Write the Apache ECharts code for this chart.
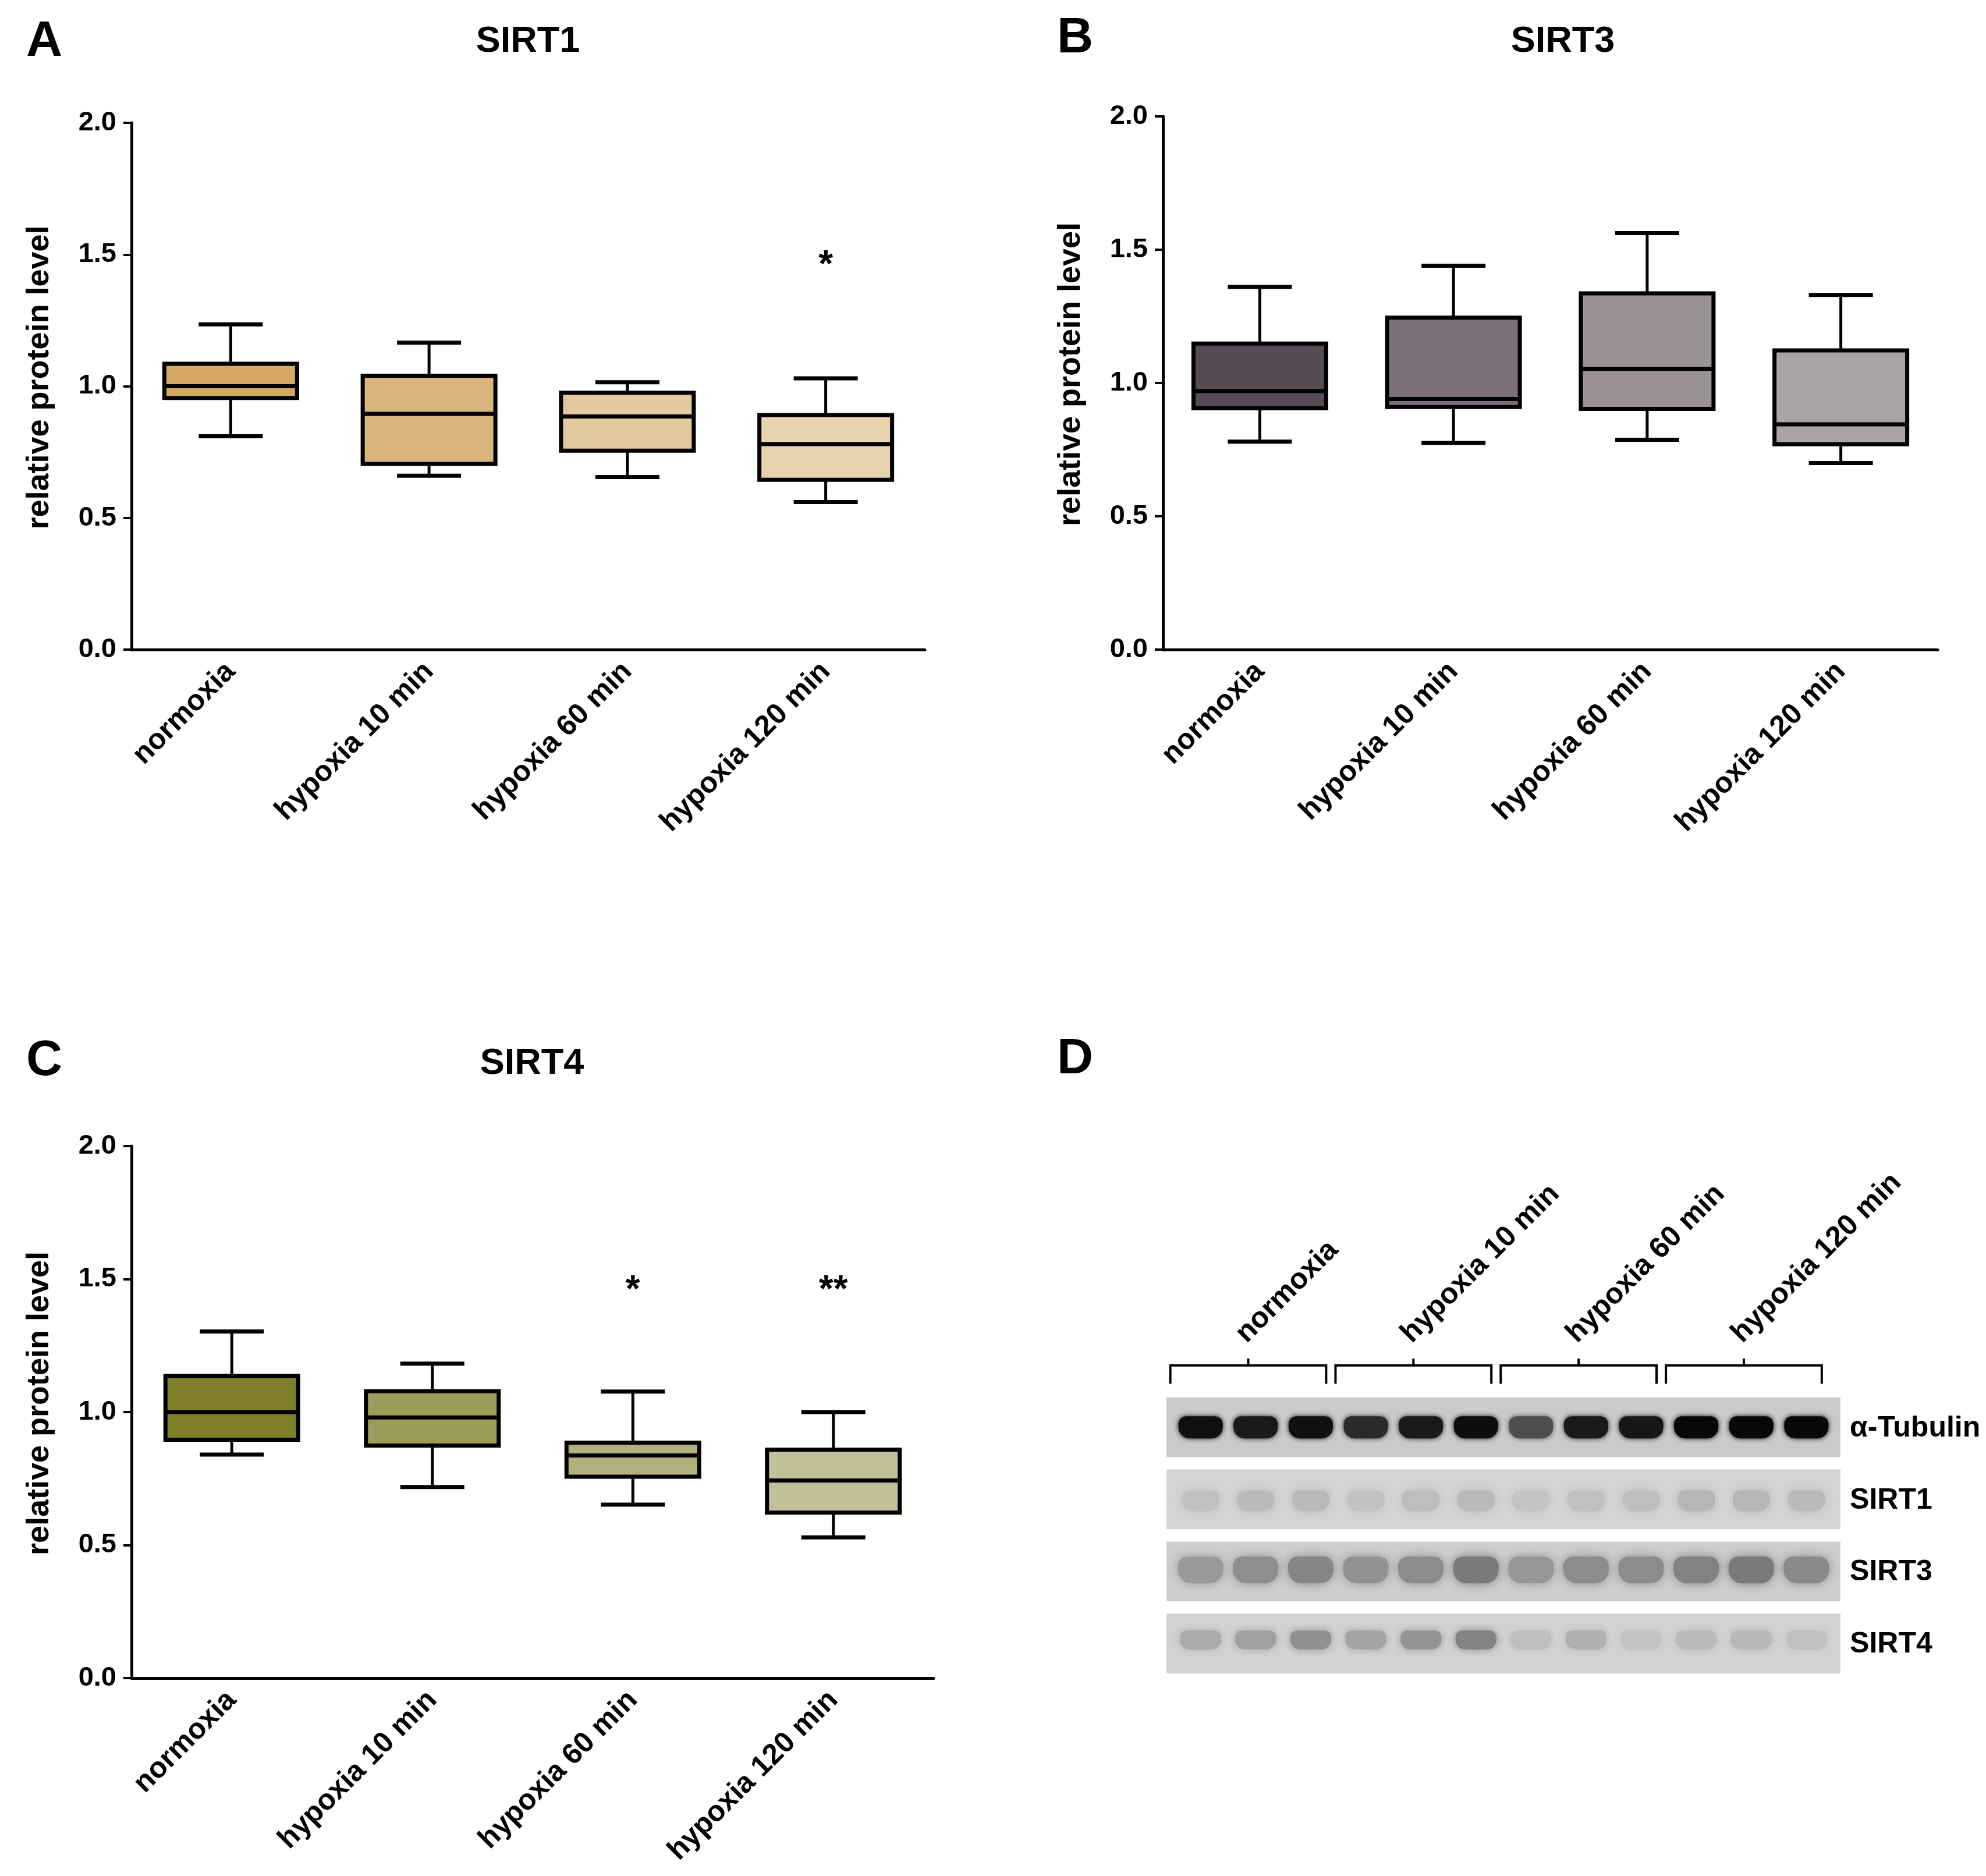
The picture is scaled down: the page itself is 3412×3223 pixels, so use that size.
<!DOCTYPE html>
<html>
<head>
<meta charset="utf-8">
<script src="https://cdn.jsdelivr.net/npm/echarts@6/dist/echarts.min.js"></script>
<style>
  html, body { margin: 0; padding: 0; background: #fff; }
  #fig { width: 3412px; height: 3223px; }
</style>
</head>
<body>
<div id="fig"></div>
<script>
// ---------- data ----------
var categories = ['normoxia', 'hypoxia 10 min', 'hypoxia 60 min', 'hypoxia 120 min'];
var yTicks = [0, 0.5, 1.0, 1.5, 2.0];

// [whisker low, Q1, median, Q3, whisker high]
var sirt1Box = [
  [0.81, 0.955, 1.00, 1.085, 1.235],
  [0.66, 0.705, 0.895, 1.04, 1.165],
  [0.655, 0.755, 0.885, 0.975, 1.015],
  [0.56, 0.645, 0.78, 0.89, 1.03]
];
var sirt3Box = [
  [0.78, 0.905, 0.97, 1.148, 1.36],
  [0.775, 0.91, 0.94, 1.245, 1.44],
  [0.787, 0.903, 1.053, 1.336, 1.562],
  [0.70, 0.77, 0.845, 1.122, 1.33]
];
var sirt4Box = [
  [0.84, 0.896, 1.00, 1.136, 1.303],
  [0.718, 0.874, 0.98, 1.079, 1.182],
  [0.652, 0.757, 0.837, 0.885, 1.077],
  [0.529, 0.622, 0.743, 0.859, 1.00]
];
// significance marks: [category index, level, text]
var sirt1Stars = [[3, 1.49, '*']];
var sirt3Stars = [];
var sirt4Stars = [[2, 1.49, '*'], [3, 1.49, '**']];

// western blot (panel D): band darkness per lane, 12 lanes
var blotRows = ['α-Tubulin', 'SIRT1', 'SIRT3', 'SIRT4'];
var blotGroups = ['normoxia', 'hypoxia 10 min', 'hypoxia 60 min', 'hypoxia 120 min'];
var tubulinBands = [0.93, 0.88, 0.93, 0.80, 0.88, 0.94, 0.62, 0.88, 0.90, 0.97, 0.97, 0.97];
var sirt1Bands = [0.10, 0.13, 0.13, 0.09, 0.11, 0.13, 0.08, 0.10, 0.11, 0.15, 0.15, 0.13];
var sirt3Bands = [0.26, 0.32, 0.36, 0.30, 0.33, 0.42, 0.28, 0.33, 0.33, 0.38, 0.42, 0.34];
var sirt4Bands = [0.20, 0.25, 0.33, 0.23, 0.31, 0.40, 0.10, 0.17, 0.07, 0.12, 0.13, 0.09];

// ---------- style ----------
var FONT = '"Liberation Sans", Arial, sans-serif';
var sirt1Colors = ['#D4A763', '#D9B47E', '#E4C89E', '#E9D3AE'];
var sirt3Colors = ['#564A53', '#7A6F78', '#9A9297', '#A9A2A7'];
var sirt4Colors = ['#7F7E29', '#9E9C5B', '#B2B17E', '#C2C19A'];
var BOX_W = 228, CAP_W = 110;
var blotBg = [202, 212, 206, 210];
var bandSize = [[76, 38, 9], [64, 36, 18], [78, 46, 18], [70, 32, 14]];
var bandShift = [0, 0.02, -0.02, -0.05];

var chart = echarts.init(document.getElementById('fig'), null, { renderer: 'canvas' });

function catAxis(gi) {
  return {
    type: 'category', gridIndex: gi, data: categories, boundaryGap: true,
    axisLine: { lineStyle: { color: '#000', width: 5 } },
    axisTick: { alignWithLabel: true, length: 16, lineStyle: { color: '#000', width: 4 } },
    axisLabel: { rotate: 45, interval: 0, margin: 30, color: '#000', fontFamily: FONT, fontWeight: 'bold', fontSize: 50 },
    splitLine: { show: false }
  };
}
function valAxis(gi) {
  return {
    type: 'value', gridIndex: gi, min: 0, max: 2, interval: 0.5,
    name: 'relative protein level', nameLocation: 'middle', nameGap: 131,
    nameTextStyle: { color: '#000', fontFamily: FONT, fontWeight: 'bold', fontSize: 54, padding: [0, 0, 0, 30] },
    axisLine: { show: true, lineStyle: { color: '#000', width: 5 } },
    axisTick: { show: true, length: 14, lineStyle: { color: '#000', width: 4 } },
    axisLabel: {
      margin: 26, color: '#000', fontFamily: FONT, fontWeight: 'bold', fontSize: 47,
      formatter: function (v) { return yTicks.indexOf(v) >= 0 ? v.toFixed(1) : ''; }
    },
    splitLine: { show: false }
  };
}

function renderBox(params, api) {
  var i = api.value(0);
  var lo = api.coord([i, api.value(1)]);
  var q1 = api.coord([i, api.value(2)]);
  var med = api.coord([i, api.value(3)]);
  var q3 = api.coord([i, api.value(4)]);
  var hi = api.coord([i, api.value(5)]);
  var cx = lo[0], bw = BOX_W / 2, cw = CAP_W / 2;
  var whisker = { stroke: '#000', lineWidth: 5 };
  var heavy = { stroke: '#000', lineWidth: 7 };
  return {
    type: 'group',
    children: [
      { type: 'line', shape: { x1: cx, y1: hi[1], x2: cx, y2: q3[1] }, style: whisker },
      { type: 'line', shape: { x1: cx, y1: q1[1], x2: cx, y2: lo[1] }, style: whisker },
      { type: 'line', shape: { x1: cx - cw, y1: hi[1], x2: cx + cw, y2: hi[1] }, style: heavy },
      { type: 'line', shape: { x1: cx - cw, y1: lo[1], x2: cx + cw, y2: lo[1] }, style: heavy },
      { type: 'rect', shape: { x: cx - bw, y: q3[1], width: BOX_W, height: q1[1] - q3[1] },
        style: { fill: api.visual('color'), stroke: '#000', lineWidth: 7 } },
      { type: 'line', shape: { x1: cx - bw, y1: med[1], x2: cx + bw, y2: med[1] }, style: heavy }
    ]
  };
}
function renderStar(params, api) {
  var p = api.coord([api.value(0), api.value(1)]);
  return {
    type: 'text', x: p[0], y: p[1] + 16,
    style: { text: api.value(2), fill: '#000', font: 'bold 64px ' + FONT, align: 'center', verticalAlign: 'middle' }
  };
}
function boxSeries(gi, rows, colors) {
  return {
    type: 'custom', xAxisIndex: gi, yAxisIndex: gi, renderItem: renderBox,
    data: rows.map(function (r, i) {
      return { value: [i].concat(r), itemStyle: { color: colors[i] } };
    })
  };
}
function starSeries(gi, stars) {
  return {
    type: 'custom', xAxisIndex: gi, yAxisIndex: gi, renderItem: renderStar,
    dimensions: ['x', 'y', { name: 't', type: 'ordinal' }],
    data: stars
  };
}

// blot helpers
var STRIP_H = 0.83;
var blotBands = [tubulinBands, sirt1Bands, sirt3Bands, sirt4Bands];
var bandData = [];
blotBands.forEach(function (lanes, r) {
  lanes.forEach(function (v, i) { bandData.push([i, r, v]); });
});

function grey(g) { g = Math.max(0, Math.min(255, Math.round(g))); return 'rgb(' + g + ',' + g + ',' + g + ')'; }

function renderStrip(params, api) {
  var r = api.value(0);
  var a = api.coord([-0.62, r]);
  var b = api.coord([11.62, r + STRIP_H]);
  return { type: 'rect', shape: { x: a[0], y: a[1], width: b[0] - a[0], height: b[1] - a[1] },
    style: { fill: grey(blotBg[r]) } };
}
function renderBand(params, api) {
  var i = api.value(0), r = api.value(1), d = api.value(2);
  var c = api.coord([i, r + STRIP_H / 2 + bandShift[r]]);
  var sz = bandSize[r];
  var col = grey(blotBg[r] - 200 * d);
  return { type: 'rect', shape: { x: c[0] - sz[0] / 2, y: c[1] - sz[1] / 2, width: sz[0], height: sz[1], r: [sz[1] * 0.35, sz[1] * 0.35, sz[1] / 2, sz[1] / 2] },
    style: { fill: col, shadowBlur: sz[2], shadowColor: col } };
}
function renderRowLabel(params, api) {
  var r = api.value(0);
  var p = api.coord([11.79, r + 0.43]);
  return { type: 'text', x: p[0], y: p[1],
    style: { text: blotRows[r], fill: '#000', font: 'bold 50px ' + FONT, align: 'left', verticalAlign: 'middle' } };
}
function renderBracket(params, api) {
  var g = api.value(0);
  var x0 = api.coord([3 * g - 0.55, -0.445]);
  var x1 = api.coord([3 * g + 2.28, -0.445]);
  var end = api.coord([0, -0.19])[1];
  var tip = api.coord([0, -0.54])[1];
  var mid = (x0[0] + x1[0]) / 2;
  var lab = api.coord([3 * g + 0.92, -0.68]);
  var ink = { stroke: '#000', lineWidth: 4, fill: null };
  return {
    type: 'group',
    children: [
      { type: 'polyline', shape: { points: [[x0[0], end], [x0[0], x0[1]], [x1[0], x1[1]], [x1[0], end]] }, style: ink },
      { type: 'line', shape: { x1: mid, y1: x0[1], x2: mid, y2: tip }, style: ink },
      { type: 'text', x: lab[0], y: lab[1], rotation: Math.PI / 4,
        style: { text: blotGroups[g], fill: '#000', font: 'bold 50px ' + FONT, align: 'left', verticalAlign: 'bottom' } }
    ]
  };
}

function panelText(x, y, text, size) {
  return { type: 'text', x: x, y: y,
    style: { text: text, fill: '#000', font: 'bold ' + size + 'px ' + FONT,
      textAlign: 'center', textVerticalAlign: 'middle', align: 'center', verticalAlign: 'middle' } };
}

chart.setOption({
  animation: false,
  backgroundColor: '#fff',
  graphic: [
    panelText(76, 72, 'A', 86),
    panelText(907, 72, 'SIRT1', 63),
    panelText(1847, 66, 'B', 86),
    panelText(2685, 72, 'SIRT3', 63),
    panelText(76, 1823, 'C', 86),
    panelText(914, 1828, 'SIRT4', 63),
    panelText(1847, 1820, 'D', 86)
  ],
  grid: [
    { left: 226, top: 211, width: 1363, height: 905 },
    { left: 1998, top: 200, width: 1331, height: 916 },
    { left: 226, top: 1969, width: 1378, height: 914 },
    { left: 2004, top: 2277, width: 1158, height: 619 }
  ],
  xAxis: [catAxis(0), catAxis(1), catAxis(2),
    { type: 'value', gridIndex: 3, min: -0.62, max: 11.62, show: false }],
  yAxis: [valAxis(0), valAxis(1), valAxis(2),
    { type: 'value', gridIndex: 3, min: -1, max: 4, inverse: true, show: false }],
  series: [
    boxSeries(0, sirt1Box, sirt1Colors),
    boxSeries(1, sirt3Box, sirt3Colors),
    boxSeries(2, sirt4Box, sirt4Colors),
    starSeries(0, sirt1Stars),
    starSeries(1, sirt3Stars),
    starSeries(2, sirt4Stars),
    { type: 'custom', xAxisIndex: 3, yAxisIndex: 3, renderItem: renderStrip, data: [[0], [1], [2], [3]] },
    { type: 'custom', xAxisIndex: 3, yAxisIndex: 3, renderItem: renderBand, data: bandData },
    { type: 'custom', xAxisIndex: 3, yAxisIndex: 3, renderItem: renderRowLabel, data: [[0], [1], [2], [3]] },
    { type: 'custom', xAxisIndex: 3, yAxisIndex: 3, renderItem: renderBracket, data: [[0], [1], [2], [3]] }
  ]
});
</script>
</body>
</html>
